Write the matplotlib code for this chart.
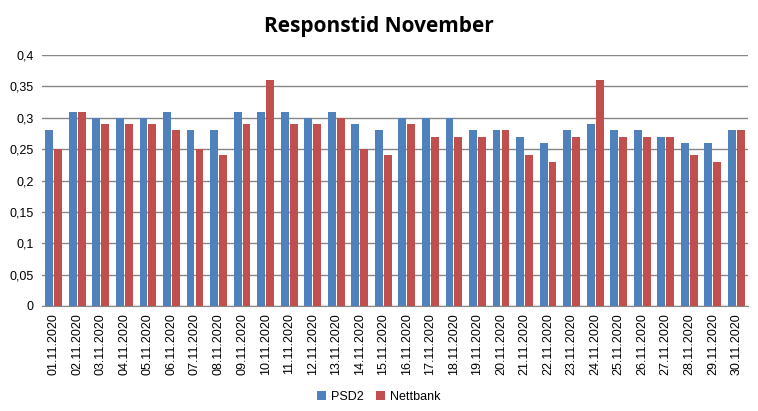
import matplotlib.pyplot as plt
import numpy as np

# Data
dates = [f"{d:02d}.11.2020" for d in range(1, 31)]
psd2 = [0.28, 0.31, 0.30, 0.30, 0.30, 0.31, 0.28, 0.28, 0.31, 0.31,
        0.31, 0.30, 0.31, 0.29, 0.28, 0.30, 0.30, 0.30, 0.28, 0.28,
        0.27, 0.26, 0.28, 0.29, 0.28, 0.28, 0.27, 0.26, 0.26, 0.28]
nettbank = [0.25, 0.31, 0.29, 0.29, 0.29, 0.28, 0.25, 0.24, 0.29, 0.36,
            0.29, 0.29, 0.30, 0.25, 0.24, 0.29, 0.27, 0.27, 0.27, 0.28,
            0.24, 0.23, 0.27, 0.36, 0.27, 0.27, 0.27, 0.24, 0.23, 0.28]
yticks = [0, 0.05, 0.1, 0.15, 0.2, 0.25, 0.3, 0.35, 0.4]

plt.rcParams['font.family'] = ['Liberation Sans', 'DejaVu Sans']

fig = plt.figure(figsize=(7.58, 4.11), dpi=100)
ax = fig.add_axes([0.0554, 0.2555, 0.9316, 0.6105])

x = np.arange(len(dates))
w = 0.335
ax.bar(x - 0.19, psd2, width=w, color='#4F81BD', label='PSD2', zorder=3)
ax.bar(x + 0.19, nettbank, width=w, color='#C0504D', label='Nettbank', zorder=3)

ax.set_xlim(-0.5, len(dates) - 0.5)
ax.set_ylim(0, 0.4)
ax.set_yticks(yticks)
ax.set_yticklabels([f"{v:g}".replace('.', ',') for v in yticks], fontsize=9)
ax.set_xticks(x)
ax.set_xticklabels(dates, rotation=90, fontsize=9)
ax.tick_params(axis='x', length=0, pad=5)
ax.tick_params(axis='y', length=0, pad=6)

ax.grid(axis='y', color='#868686', linewidth=1, zorder=0)
for s in ['top', 'right', 'left']:
    ax.spines[s].set_visible(False)
ax.spines['bottom'].set_color('#868686')

fig.text(0.5, 0.935, 'Responstid November', fontsize=15, fontweight='bold',
         family=['Open Sans', 'DejaVu Sans'], ha='center', va='center')

fig.legend(loc='lower center', bbox_to_anchor=(0.5, -0.008), ncol=2, frameon=False,
           fontsize=9, handlelength=0.7, handleheight=0.7, handletextpad=0.4,
           columnspacing=1.0)

fig.savefig('out.png', dpi=100)
